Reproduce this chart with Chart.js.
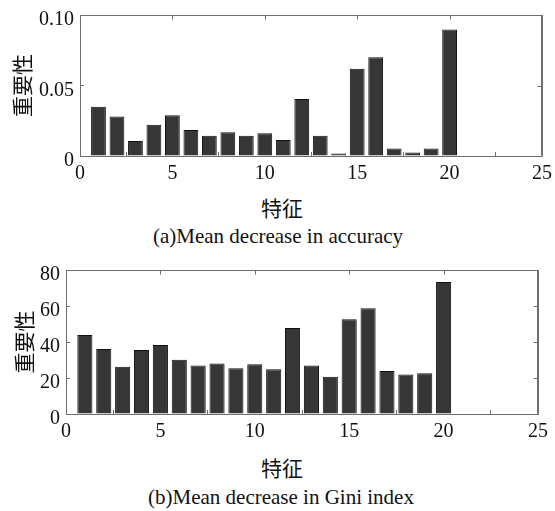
<!DOCTYPE html>
<html>
<head>
<meta charset="utf-8">
<script src="https://cdn.jsdelivr.net/npm/chart.js@4"></script>
<style>
  html, body { margin: 0; padding: 0; background: #fff; }
  body { width: 555px; height: 511px; position: relative; overflow: hidden; }
  .wrap { position: absolute; left: 0; top: 0; }
  .wrap canvas { display: block; }
  .frame { position: absolute; box-sizing: border-box; border: 1px solid #6e6e6e; background: transparent; pointer-events: none; }
  .lbl { position: absolute; white-space: nowrap; color: #111; text-align: center; line-height: 24px; }
  .xlab { font-family: "Noto Sans CJK SC", sans-serif; font-size: 21px; width: 100px; }
  .cap { font-family: "Liberation Serif", serif; font-size: 21px; width: 400px; }
</style>
</head>
<body>
<div class="wrap" id="wa"></div>
<div class="wrap" id="wb"></div>
<div class="frame" style="left:80px; top:15px; width:463px; height:142px"></div>
<div class="frame" style="left:66px; top:270px; width:473px; height:145px"></div>

<div class="lbl xlab" style="left:232px; top:195px">特征</div>
<div class="lbl cap" style="left:78px; top:224px">(a)Mean decrease in accuracy</div>
<div class="lbl xlab" style="left:232px; top:455px">特征</div>
<div class="lbl cap" style="left:81px; top:485px">(b)Mean decrease in Gini index</div>

<script>
const features = [1,2,3,4,5,6,7,8,9,10,11,12,13,14,15,16,17,18,19,20];
const accuracyDecrease = [0.035,0.028,0.0106,0.0222,0.0289,0.0184,0.0144,0.0168,0.0144,0.0161,0.0114,0.0404,0.0144,0.0017,0.0619,0.070,0.0054,0.0024,0.0054,0.0898];
const giniDecrease = [43.9,36.1,26.3,35.6,38.3,30.2,27.0,28.1,25.4,27.6,24.8,47.8,27.0,20.7,52.6,58.7,23.9,22.0,22.6,73.3];
const xTicks = [0,5,10,15,20,25];
const yTicksA = [0,0.05,0.10];
const yTicksB = [0,20,40,60,80];
const yTitle = '重要性';

const axisColor = '#6e6e6e';
const tickFont = { family: "'Liberation Serif', serif", size: 20 };

const frameTop = {
  id: 'frameTop',
  afterDraw(chart) {
    const ctx = chart.ctx, a = chart.chartArea, x = chart.scales.x, y = chart.scales.y;
    ctx.save();
    ctx.strokeStyle = axisColor;
    ctx.lineWidth = 1;
    const t = Math.round(a.top) + 0.5, r = Math.round(a.right) - 0.5;
    const l = Math.round(a.left) + 0.5, b = Math.round(a.bottom) - 0.5;
    ctx.beginPath();
    ctx.moveTo(l, t); ctx.lineTo(r, t); ctx.lineTo(r, b);
    x.ticks.forEach(tk => {
      const px = Math.round(x.getPixelForValue(tk.value)) + 0.5;
      if (px > l + 1 && px < r - 1) { ctx.moveTo(px, t); ctx.lineTo(px, t + 4); }
    });
    y.ticks.forEach(tk => {
      const py = Math.round(y.getPixelForValue(tk.value)) + 0.5;
      if (py > t + 1 && py < b - 1) { ctx.moveTo(r, py); ctx.lineTo(r - 4, py); }
    });
    ctx.stroke();
    ctx.restore();
  }
};

function makeConfig(values, yTicks, yFmt, o) {
  return {
    type: 'bar',
    data: {
      datasets: [{
        data: features.map((f, i) => ({ x: f, y: values[i] })),
        backgroundColor: '#363636',
        borderColor: '#111',
        borderWidth: 1,
        barPercentage: 0.8,
        categoryPercentage: 1.0
      }]
    },
    options: {
      responsive: false,
      maintainAspectRatio: false,
      animation: false,
      layout: { padding: { top: 10, right: 10, left: 0, bottom: 0 } },
      plugins: { legend: { display: false }, tooltip: { enabled: false } },
      scales: {
        x: {
          type: 'linear', position: 'bottom', offset: false,
          min: xTicks[0], max: xTicks[xTicks.length - 1],
          afterBuildTicks: s => { s.ticks = xTicks.map(v => ({ value: v })); },
          afterFit: s => { s.height = o.xh; },
          grid: { display: true, drawOnChartArea: false, drawTicks: true, tickLength: -4, color: axisColor, lineWidth: 1 },
          border: { display: true, color: axisColor, width: 1 },
          ticks: { font: tickFont, color: '#111', padding: 10, maxRotation: 0, autoSkip: false }
        },
        y: {
          type: 'linear', position: 'left',
          min: yTicks[0], max: yTicks[yTicks.length - 1],
          afterBuildTicks: s => { s.ticks = yTicks.map(v => ({ value: v })); },
          afterFit: s => { s.width = o.yw; },
          grid: { display: true, drawOnChartArea: false, drawTicks: true, tickLength: -4, color: axisColor, lineWidth: 1 },
          border: { display: true, color: axisColor, width: 1 },
          title: { display: true, text: yTitle, color: '#111',
                   font: { family: '"Noto Sans CJK SC", sans-serif', size: 21 },
                   padding: { top: o.tpad, bottom: 0 } },
          ticks: { font: tickFont, color: '#111', padding: 10, labelOffset: 5, autoSkip: false, callback: yFmt }
        }
      }
    },
    plugins: [frameTop]
  };
}

function build(wrapId, values, yTicks, yFmt, o) {
  const wrap = document.getElementById(wrapId);
  let W = 600, H = 200, chart = null, a = null;
  for (let pass = 0; pass < 2; pass++) {
    if (chart) chart.destroy();
    wrap.innerHTML = '';
    const cv = document.createElement('canvas');
    cv.width = W; cv.height = H;
    wrap.appendChild(cv);
    chart = new Chart(cv, makeConfig(values, yTicks, yFmt, o));
    a = chart.chartArea;
    W = Math.round(W + (o.t.right - o.t.left) - (a.right - a.left));
    H = Math.round(H + (o.t.bottom - o.t.top) - (a.bottom - a.top));
  }
  wrap.style.left = Math.round(o.t.left - a.left) + 'px';
  wrap.style.top = Math.round(o.t.top - a.top) + 'px';
  return chart;
}

build('wa', accuracyDecrease, yTicksA, v => v === 0 ? '0' : v.toFixed(2),
      { t: { left: 80, top: 15, right: 542, bottom: 156 }, xh: 29, yw: 80, tpad: 9 });
build('wb', giniDecrease, yTicksB, v => String(v),
      { t: { left: 66, top: 270, right: 538, bottom: 414 }, xh: 26, yw: 66, tpad: 11 });
</script>
</body>
</html>
